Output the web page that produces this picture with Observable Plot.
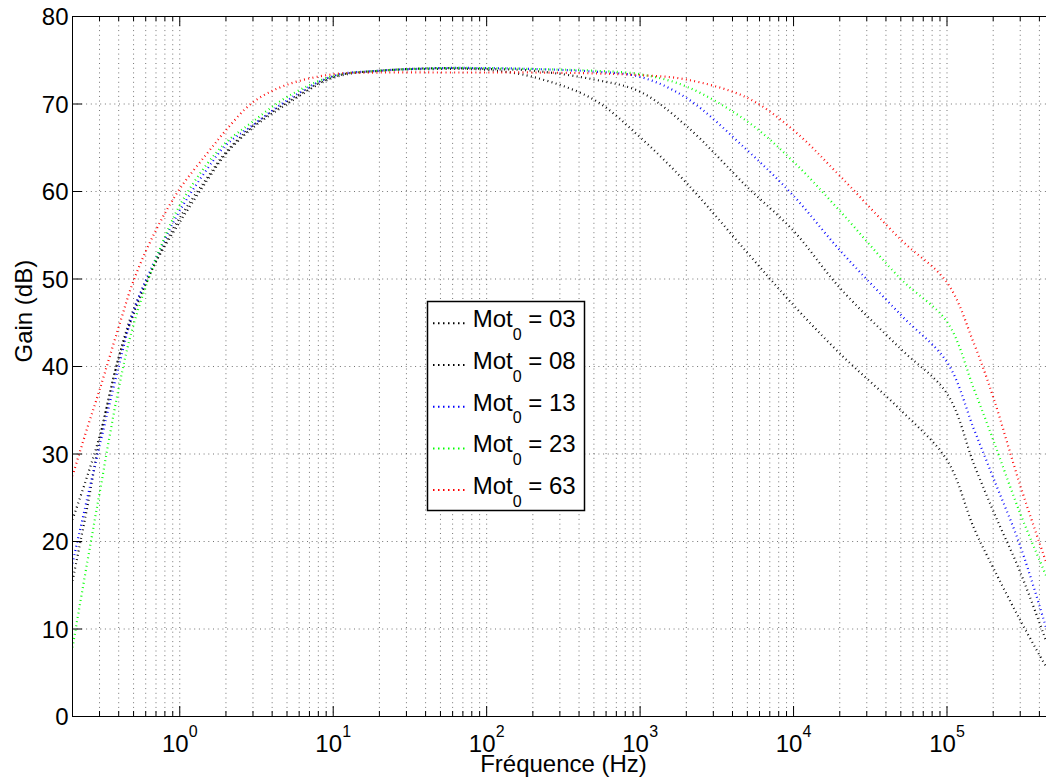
<!DOCTYPE html>
<html><head><meta charset="utf-8">
<script src="https://cdn.jsdelivr.net/npm/d3@7"></script>
<script src="https://cdn.jsdelivr.net/npm/@observablehq/plot@0.6"></script>
<style>
html,body{margin:0;padding:0;background:#fff;}
#wrap{position:relative;width:1046px;height:780px;font-family:"Liberation Sans",Arial,Helvetica,sans-serif;}
#wrap svg.overlay{position:absolute;left:0;top:0;pointer-events:none;}
</style></head><body><div id="wrap"></div>
<script>
// ---- data ----
const freq = [0.2, 0.25, 0.3, 0.4, 0.5, 0.7, 1, 1.5, 2, 3, 5, 10, 20, 50, 100, 200, 500, 1000, 2000, 5000, 1e4, 2e4, 5e4, 1e5, 1.5e5, 2e5, 3e5, 4.45e5];
const gain03 = [15.5, 24, 31.5, 41, 46.5, 52, 56.5, 61.2, 64.3, 67.3, 70, 73, 73.8, 74, 73.9, 73.1, 70.5, 66.2, 61, 53, 47, 41.5, 35, 29.3, 21.5, 17, 11, 5.6];
const gain08 = [22.5, 27.5, 32, 41, 46, 52, 57, 61.5, 64.5, 67.5, 70.2, 73.1, 73.8, 74.1, 74, 73.8, 72.8, 71.4, 67.5, 60.5, 55.5, 49, 42, 36.9, 28.8, 23.5, 16.5, 8.5];
const gain13 = [17.5, 25, 30.9, 40, 46.3, 52.4, 57.8, 62.5, 65.3, 67.6, 70.4, 73.2, 73.8, 74.1, 74.1, 74.0, 73.7, 73.1, 70.7, 64.7, 59.5, 53.3, 45.9, 40.5, 32.8, 27.3, 19.5, 10];
const gain23 = [7.9, 17.7, 25.5, 37.5, 44.8, 52.3, 58.4, 63.1, 65.6, 68, 70.8, 73.2, 73.8, 74.1, 74.1, 74.0, 73.8, 73.4, 72, 68, 63.4, 57.8, 50, 45.1, 37.4, 31.6, 23.2, 16];
const gain63 = [27.5, 33, 37.3, 44.5, 49.8, 55.6, 60.3, 64.3, 67, 70.2, 72.2, 73.4, 73.6, 73.6, 73.6, 73.6, 73.5, 73.3, 72.8, 70.7, 67, 61.8, 54.5, 49.6, 42.6, 36.5, 26.4, 17.5];
const seriesValues = ["03", "08", "13", "23", "63"];
const seriesColors = ["#000000", "#000000", "#0000ff", "#00ff00", "#ff0000"];
const seriesGains = [gain03, gain08, gain13, gain23, gain63];
const xDecades = [1, 10, 100, 1000, 1e4, 1e5];
const xExponents = ["0", "1", "2", "3", "4", "5"];
const yTicks = [0, 10, 20, 30, 40, 50, 60, 70, 80];
const xLabel = "Fréquence (Hz)";
const yLabel = "Gain (dB)";

// ---- layout ----
const W = 1046, H = 780, mL = 72, mR = 0, mT = 16, mB = 64;
const innerW = W - mL - mR, innerH = H - mT - mB;
const xDomain = [0.2, 4.45e5];
const FONT = '"Liberation Sans", Arial, Helvetica, sans-serif';

const xMinor = [];
for (let k = -1; k <= 5; k++) for (let m = 2; m <= 9; m++) {
  const v = m * Math.pow(10, k);
  if (v >= xDomain[0] && v <= xDomain[1]) xMinor.push(v);
}
const xGrid = xMinor.concat(xDecades);
const yGrid = yTicks.filter(v => v > 0 && v < 80);

const lineMarks = seriesGains.map((g, s) =>
  Plot.line(freq.map((f, i) => ({f, g: g[i]})), {
    x: "f", y: "g", stroke: seriesColors[s], curve: "catmull-rom",
    strokeWidth: 2.2, strokeDasharray: "0.9,3.4", strokeLinecap: "butt", clip: true
  }));

const gridStyle = {stroke: "#000", strokeOpacity: 0.55, strokeWidth: 1, strokeDasharray: "1,3.7"};

const chart = Plot.plot({
  width: W, height: H, marginLeft: mL, marginRight: mR, marginTop: mT, marginBottom: mB,
  x: {type: "log", domain: xDomain, axis: null},
  y: {domain: [0, 80], axis: null},
  style: {fontFamily: FONT, fontSize: "24px", color: "#000", background: "#fff", overflow: "visible"},
  marks: [
    Plot.ruleX(xGrid, {x: d => d, ...gridStyle}),
    Plot.ruleY(yGrid, {y: d => d, ...gridStyle}),
    ...lineMarks,
    // frame (left, bottom, top)
    Plot.ruleY([0, 80], {y: d => d, stroke: "#000", strokeWidth: 1}),
    Plot.ruleX([xDomain[0]], {x: d => d, stroke: "#000", strokeWidth: 1}),
    // inward ticks
    Plot.tickX(xDecades, {x: d => d, insetTop: innerH - 10, stroke: "#000"}),
    Plot.tickX(xMinor, {x: d => d, insetTop: innerH - 5, stroke: "#000"}),
    Plot.tickX(xDecades, {x: d => d, insetBottom: innerH - 10, stroke: "#000"}),
    Plot.tickX(xMinor, {x: d => d, insetBottom: innerH - 5, stroke: "#000"}),
    Plot.tickY(yTicks, {y: d => d, insetRight: innerW - 10, stroke: "#000"}),
    // tick labels
    Plot.text(yTicks, {y: d => d, text: d => String(d), frameAnchor: "left", textAnchor: "end", dx: -4, dy: 1, fontSize: 24, fill: "#000"}),
    Plot.text(xDecades, {x: d => d, text: () => "10", frameAnchor: "bottom", lineAnchor: "bottom", textAnchor: "middle", dx: -4.5, dy: 35, fontSize: 24, fill: "#000"}),
    Plot.text(xDecades, {x: d => d, text: (d, i) => xExponents[i], frameAnchor: "bottom", lineAnchor: "bottom", textAnchor: "middle", dx: 13.5, dy: 20, fontSize: 16, fill: "#000"}),
    // axis titles
    Plot.text([xLabel], {text: d => d, frameAnchor: "bottom", lineAnchor: "bottom", dx: 4, dy: 55, fontSize: 24, fill: "#000"}),
    Plot.text([yLabel], {text: d => d, frameAnchor: "left", lineAnchor: "bottom", rotate: -90, dx: -41, dy: -4, fontSize: 24, fill: "#000"})
  ]
});
const wrap = document.getElementById("wrap");
wrap.appendChild(chart);

// ---- legend (inside the axes, as in the reference) ----
const leg = d3.select(wrap).append("svg").attr("class", "overlay")
  .attr("width", W).attr("height", H)
  .style("font-family", FONT);
leg.append("rect").attr("x", 427.5).attr("y", 301.5).attr("width", 157).attr("height", 209)
  .attr("fill", "#fff").attr("stroke", "#000").attr("stroke-width", 1.5);
seriesValues.forEach((v, i) => {
  const y0 = 323.3 + i * 41.7;
  leg.append("line").attr("x1", 433).attr("x2", 466).attr("y1", y0).attr("y2", y0)
    .attr("stroke", seriesColors[i]).attr("stroke-width", 2).attr("stroke-dasharray", "1.5,3.5");
  const t = leg.append("text").attr("x", 472.7).attr("y", y0 + 4).attr("font-size", 24).attr("fill", "#000");
  t.append("tspan").text("Mot");
  t.append("tspan").attr("font-size", 16).attr("dy", 12.7).text("0");
  t.append("tspan").attr("dy", -12.7).text(" = " + v);
});
</script></body></html>
